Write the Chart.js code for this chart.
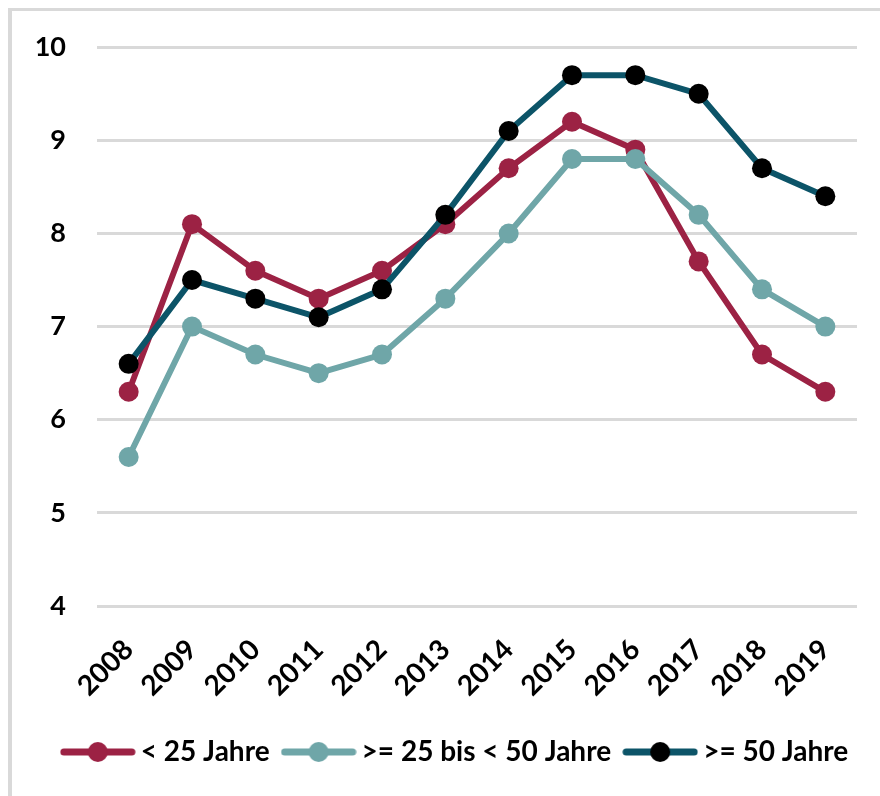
<!DOCTYPE html>
<html>
<head>
<meta charset="utf-8">
<script src="https://cdn.jsdelivr.net/npm/chart.js@4"></script>
<style>
  html, body { margin: 0; padding: 0; background: #fff; }
  #wrap { position: relative; width: 880px; height: 796px; }
  #frame {
    position: absolute; left: 8px; top: 8px; right: 0; bottom: 0;
    border-left: 4px solid #d9d9d9; border-top: 3px solid #d9d9d9;
  }
  canvas { position: absolute; left: 0; top: 0; }
</style>
</head>
<body>
<div id="wrap">
  <div id="frame"></div>
  <canvas id="myChart" width="880" height="796"></canvas>
</div>
<script>
const years = ["2008", "2009", "2010", "2011", "2012", "2013", "2014", "2015", "2016", "2017", "2018", "2019"];
const under25 = [6.3, 8.1, 7.6, 7.3, 7.6, 8.1, 8.7, 9.2, 8.9, 7.7, 6.7, 6.3];
const from25to50 = [5.6, 7.0, 6.7, 6.5, 6.7, 7.3, 8.0, 8.8, 8.8, 8.2, 7.4, 7.0];
const over50 = [6.6, 7.5, 7.3, 7.1, 7.4, 8.2, 9.1, 9.7, 9.7, 9.5, 8.7, 8.4];
const seriesNames = ["< 25 Jahre", ">= 25 bis < 50 Jahre", ">= 50 Jahre"];

const RED = "#9c2244";
const TEAL = "#6fa6a8";
const DARK = "#0c5468";

const fontFamily = "Lato, 'Open Sans', sans-serif";
const tickFont = { family: fontFamily, size: 27, weight: "bold" };
const xTickFont = { family: fontFamily, size: 28, weight: "bold" };
const legendFont = { family: fontFamily, size: 28, weight: "bold" };

// legend marker: line with a dot in the middle
const legendMarker = (lineColor, dotColor) => {
  const c = document.createElement("canvas");
  c.width = 76;
  c.height = 22;
  const ctx = c.getContext("2d");
  ctx.strokeStyle = lineColor;
  ctx.lineWidth = 7;
  ctx.lineCap = "round";
  ctx.beginPath();
  ctx.moveTo(4, 11);
  ctx.lineTo(72, 11);
  ctx.stroke();
  ctx.fillStyle = dotColor;
  ctx.beginPath();
  ctx.arc(38, 11, 10, 0, Math.PI * 2);
  ctx.fill();
  return c;
};

const markers = [
  legendMarker(RED, RED),
  legendMarker(TEAL, TEAL),
  legendMarker(DARK, "#000000"),
];

const makeDataset = (label, data, lineColor, dotColor, order) => ({
  label: label,
  data: data,
  borderColor: lineColor,
  backgroundColor: dotColor,
  pointBackgroundColor: dotColor,
  pointBorderColor: dotColor,
  pointBorderWidth: 0,
  pointRadius: 10,
  pointStyle: "circle",
  borderWidth: 6,
  tension: 0,
  order: order,
});

// the legend sits a bit right of centre in the original
const shiftLegend = {
  id: "shiftLegend",
  afterLayout: (chart) => {
    if (chart.legend) {
      chart.legend.left += 30;
      chart.legend.right += 30;
    }
  },
};

const chartContainer = document.getElementById("myChart");

new Chart(chartContainer, {
  type: "line",
  data: {
    labels: years,
    datasets: [
      makeDataset(seriesNames[0], under25, RED, RED, 3),
      makeDataset(seriesNames[1], from25to50, TEAL, TEAL, 2),
      makeDataset(seriesNames[2], over50, DARK, "#000000", 1),
    ],
  },
  plugins: [shiftLegend],
  options: {
    responsive: false,
    animation: false,
    layout: {
      padding: { left: 0, right: 23, top: 34, bottom: 20 },
    },
    plugins: {
      tooltip: { enabled: false },
      legend: {
        position: "bottom",
        labels: {
          usePointStyle: true,
          pointStyleWidth: 58,
          padding: 20,
          color: "#000",
          font: legendFont,
          sort: (a, b) => a.datasetIndex - b.datasetIndex,
          generateLabels: (chart) =>
            Chart.defaults.plugins.legend.labels
              .generateLabels(chart)
              .map((item) => ({ ...item, pointStyle: markers[item.datasetIndex] })),
        },
      },
    },
    scales: {
      x: {
        offset: true,
        grid: { display: false, drawTicks: false },
        border: { display: false },
        afterFit: (scale) => {
          scale.height = 112;
        },
        ticks: {
          autoSkip: false,
          maxRotation: 45,
          minRotation: 45,
          padding: 27,
          color: "#000",
          font: xTickFont,
        },
      },
      y: {
        min: 4,
        max: 10,
        grid: { color: "#d9d9d9", lineWidth: 3, drawTicks: false },
        border: { display: false },
        afterFit: (scale) => {
          scale.width = 97;
        },
        ticks: {
          stepSize: 1,
          padding: 31,
          color: "#000",
          font: tickFont,
        },
      },
    },
  },
});
</script>
</body>
</html>
